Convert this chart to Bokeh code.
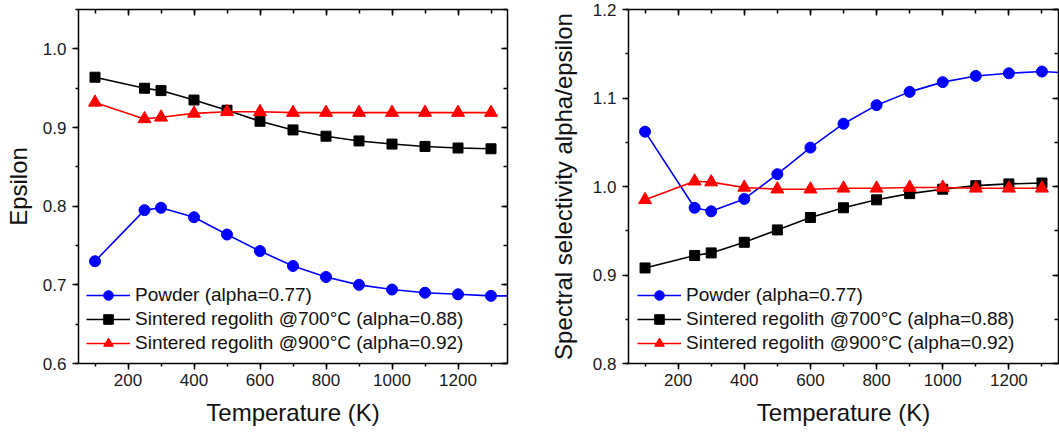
from bokeh.plotting import figure
from bokeh.models import (Range1d, LinearAxis, SingleIntervalTicker, Legend,
                          LegendItem, NumeralTickFormatter, CustomLabelingPolicy)
from bokeh.layouts import row
from bokeh.embed import file_html
from bokeh.resources import INLINE

# ---- data ----
temperature = [100, 250, 300, 400, 500, 600, 700, 800, 900, 1000, 1100, 1200, 1300]
temperature_powder = [100, 250, 300, 400, 500, 600, 700, 800, 900, 1000, 1100, 1200, 1300, 1400]

eps_powder = [0.730, 0.795, 0.798, 0.786, 0.764, 0.743, 0.724, 0.710, 0.700, 0.694, 0.690, 0.688, 0.686, 0.686]
eps_700 = [0.964, 0.950, 0.947, 0.935, 0.922, 0.908, 0.897, 0.889, 0.883, 0.879, 0.876, 0.874, 0.873]
eps_900 = [0.932, 0.911, 0.913, 0.918, 0.920, 0.920, 0.919, 0.919, 0.919, 0.919, 0.919, 0.919, 0.919]

sel_powder = [1.062, 0.976, 0.972, 0.986, 1.014, 1.044, 1.071, 1.092, 1.107, 1.118, 1.125, 1.128, 1.130, 1.128]
sel_700 = [0.908, 0.922, 0.925, 0.937, 0.951, 0.965, 0.976, 0.985, 0.992, 0.997, 1.001, 1.003, 1.004]
sel_900 = [0.985, 1.006, 1.005, 0.999, 0.997, 0.997, 0.998, 0.998, 0.999, 0.999, 0.998, 0.998, 0.998]

series_labels = ["Powder (alpha=0.77)",
                 "Sintered regolith @700\u00b0C (alpha=0.88)",
                 "Sintered regolith @900\u00b0C (alpha=0.92)"]
series_colors = ["#0000FF", "#000000", "#FF0000"]
series_markers = ["circle", "square", "triangle"]
marker_sizes = [11, 10, 13]

FONT = "Liberation Sans"

NO_LABELS = "for (const i of indices) { indices.unset(i) }\nreturn indices"


def style_axis(ax, inner=False):
    ax.axis_line_width = 1.5
    ax.axis_line_color = "#000000"
    ax.major_tick_line_width = 1.5
    ax.minor_tick_line_width = 1.5
    ax.major_tick_line_color = "#000000"
    ax.minor_tick_line_color = "#000000"
    if inner:
        ax.major_tick_in, ax.major_tick_out = 6, 0
        ax.minor_tick_in, ax.minor_tick_out = 4, 0
        ax.major_label_text_font_size = "0px"
        ax.major_label_standoff = 0
        ax.major_label_policy = CustomLabelingPolicy(code=NO_LABELS)
    else:
        ax.major_tick_in, ax.major_tick_out = 0, 6
        ax.minor_tick_in, ax.minor_tick_out = 0, 3
        ax.major_label_text_font = FONT
        ax.major_label_text_font_size = "17px"
        ax.major_label_text_color = "#1a1a1a"
        ax.major_label_standoff = 6
        ax.axis_label_text_font = FONT
        ax.axis_label_text_font_size = "24px"
        ax.axis_label_text_font_style = "normal"
        ax.axis_label_text_color = "#111111"


def make_panel(ylabel, y0, y1, xs_list, ys_list, border_left, border_right,
               frame_w, ylabel_standoff, legend_x):
    p = figure(frame_width=frame_w, frame_height=354,
               x_range=Range1d(50, 1350), y_range=Range1d(y0, y1),
               output_backend="svg", toolbar_location=None,
               min_border_left=border_left, min_border_right=border_right,
               min_border_top=9, min_border_bottom=71,
               background_fill_color="white", border_fill_color="white")
    p.outline_line_color = None
    p.xgrid.visible = False
    p.ygrid.visible = False

    p.xaxis.ticker = SingleIntervalTicker(interval=200, num_minor_ticks=2)
    p.yaxis.ticker = SingleIntervalTicker(interval=0.1, num_minor_ticks=2)
    p.yaxis.formatter = NumeralTickFormatter(format="0.0")
    p.xaxis.axis_label = "Temperature (K)"
    p.yaxis.axis_label = ylabel
    style_axis(p.xaxis[0])
    style_axis(p.yaxis[0])
    p.xaxis.major_label_standoff = 4
    p.xaxis.axis_label_standoff = 10
    p.yaxis.axis_label_standoff = ylabel_standoff

    top = LinearAxis(ticker=SingleIntervalTicker(interval=200, num_minor_ticks=2))
    style_axis(top, inner=True)
    p.add_layout(top, "above")
    right = LinearAxis(ticker=SingleIntervalTicker(interval=0.1, num_minor_ticks=2))
    style_axis(right, inner=True)
    p.add_layout(right, "right")

    items = []
    for xs, ys, lab, col, mk, sz in zip(xs_list, ys_list, series_labels,
                                         series_colors, series_markers, marker_sizes):
        lr = p.line(xs, ys, line_color=col, line_width=1.6)
        sr = p.scatter(xs, ys, marker=mk, size=sz, fill_color=col, line_color=col)
        items.append(LegendItem(label=lab, renderers=[lr, sr]))

    legend = Legend(items=items, location=(legend_x, 8), padding=0, margin=0,
                    spacing=0, glyph_width=44, glyph_height=24, label_height=24,
                    label_standoff=5, label_text_font=FONT,
                    label_text_font_size="19px", label_text_color="#111111",
                    background_fill_alpha=0, border_line_color=None)
    p.add_layout(legend)
    return p


p1 = make_panel("Epsilon", 0.6, 1.0501,
                [temperature_powder, temperature, temperature],
                [eps_powder, eps_700, eps_900],
                78, 23, 429, 8, 8)
p2 = make_panel("Spectral selectivity alpha/epsilon", 0.8, 1.2001,
                [temperature_powder, temperature, temperature],
                [sel_powder, sel_700, sel_900],
                98, 1, 430, 13, 9)

layout = row(p1, p2)
open("out.html", "w").write(file_html(layout, INLINE))
